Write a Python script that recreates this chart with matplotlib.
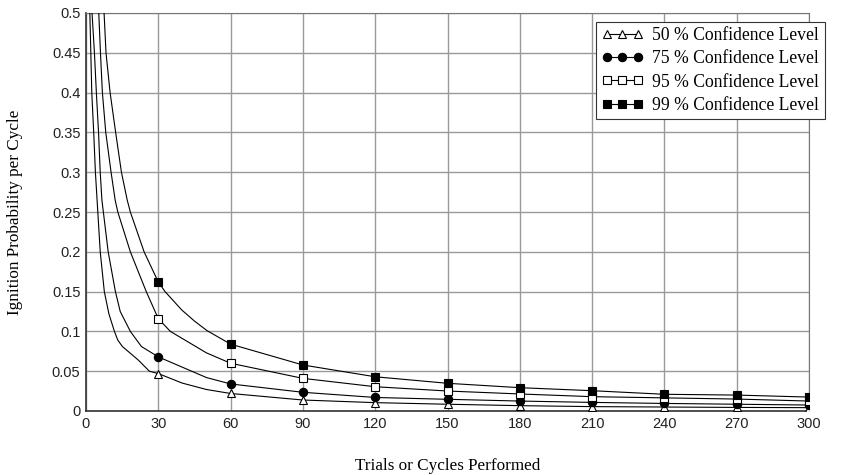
import matplotlib
matplotlib.use("Agg")
from matplotlib import pyplot as plt

# readings, one x/y pair of lists per confidence level
x50 = [1.6, 2.0, 2.4, 3.2, 3.9, 4.9, 5.9, 7.6, 9.5, 11.8, 13.2, 15.1, 18.4, 21.7, 26.3, 30, 40, 50, 60,
       90, 120, 150, 180, 210, 240, 270, 300]
y50 = [0.5, 0.45, 0.4, 0.35, 0.3, 0.25, 0.2, 0.15, 0.122, 0.1, 0.089, 0.081, 0.0725, 0.064, 0.05, 0.047,
       0.035, 0.027, 0.022,
       0.0138, 0.0105, 0.0085, 0.0067, 0.0055, 0.005, 0.0045, 0.0042]

x75 = [2.5, 3.5, 4.3, 5.2, 5.9, 6.6, 7.2, 9.2, 12.2, 14.2, 18.4, 23, 30, 40, 50, 60,
       90, 120, 150, 180, 210, 240, 270, 300]
y75 = [0.5, 0.45, 0.4, 0.35, 0.3, 0.265, 0.25, 0.2, 0.15, 0.125, 0.1, 0.081, 0.068, 0.055, 0.042, 0.034,
       0.0235, 0.017, 0.0147, 0.0125, 0.0108, 0.0095, 0.0085, 0.0075]

x95 = [5.3, 6.0, 6.8, 8.2, 10.4, 12.1, 13.2, 18.4, 25, 30, 35, 40, 50, 60,
       90, 120, 150, 180, 210, 240, 270, 300]
y95 = [0.5, 0.45, 0.4, 0.35, 0.3, 0.265, 0.25, 0.2, 0.15, 0.116, 0.1, 0.091, 0.073, 0.060,
       0.041, 0.0305, 0.0251, 0.0214, 0.018, 0.0165, 0.015, 0.0125]

x99 = [7.5, 8.3, 10.0, 12.3, 14.7, 17.1, 18.4, 24.1, 30, 32.8, 39.7, 45, 50.2, 60,
       90, 120, 150, 180, 210, 240, 270, 300]
y99 = [0.5, 0.45, 0.4, 0.35, 0.3, 0.265, 0.25, 0.2, 0.162, 0.15, 0.127, 0.113, 0.101, 0.084,
       0.0578, 0.043, 0.0348, 0.0293, 0.0255, 0.021, 0.020, 0.0175]

labels = ["50 % Confidence Level", "75 % Confidence Level",
          "95 % Confidence Level", "99 % Confidence Level"]
xticks = [0, 30, 60, 90, 120, 150, 180, 210, 240, 270, 300]
yticks = [0, 0.05, 0.1, 0.15, 0.2, 0.25, 0.3, 0.35, 0.4, 0.45, 0.5]

serif = ["Liberation Serif", "DejaVu Serif"]
sans = ["Liberation Sans", "DejaVu Sans"]

fig = plt.figure(figsize=(8.58, 4.75), dpi=100)
ax = fig.add_axes([86 / 858, 1 - 411 / 475, (809 - 86) / 858, (411 - 13) / 475])

series = [(x50, y50, "^", "white"), (x75, y75, "o", "black"),
          (x95, y95, "s", "white"), (x99, y99, "s", "black")]

handles = []
for (xs, ys, mk, fc), lab in zip(series, labels):
    marks = [i for i, v in enumerate(xs) if v % 30 == 0]
    ln, = ax.plot(xs, ys, color="black", lw=0.8, marker=mk, markersize=6,
                  markerfacecolor=fc, markeredgecolor="black", markeredgewidth=0.8,
                  markevery=marks, label=lab, zorder=3)
    handles.append(ln)

ax.set_xlim(0, 300)
ax.set_ylim(0, 0.5)
ax.set_xticks(xticks)
ax.set_yticks(yticks)
ax.set_xticklabels([str(t) for t in xticks], family=sans, fontsize=10.5, color="#222222")
ax.set_yticklabels(["0" if t == 0 else f"{t:g}" for t in yticks], family=sans,
                   fontsize=10.5, color="#222222")
ax.tick_params(length=0, pad=4)
ax.grid(True, color="#999999", lw=1)
ax.set_axisbelow(True)
for s in ["top", "right"]:
    ax.spines[s].set_color("#777777")
for s in ["left", "bottom"]:
    ax.spines[s].set_color("#333333")
    ax.spines[s].set_linewidth(1.2)

fig.text(448 / 858, 1 - 466 / 475, "Trials or Cycles Performed", family=serif,
         fontsize=12.3, ha="center", va="center")
fig.text(15 / 858, 1 - 212 / 475, "Ignition Probability per Cycle", family=serif,
         fontsize=12.3, ha="center", va="center", rotation=90)

leg = fig.legend(handles=handles, labels=labels, loc="upper left",
                 bbox_to_anchor=(596 / 858, 1 - 22 / 475), numpoints=3,
                 prop={"family": serif, "size": 12.7}, frameon=True, fancybox=False,
                 edgecolor="#333333", framealpha=1, borderpad=0.3, labelspacing=0.35,
                 handlelength=2.4, handletextpad=0.5, borderaxespad=0)
leg.get_frame().set_linewidth(0.8)

fig.savefig("out.png", dpi=100)
